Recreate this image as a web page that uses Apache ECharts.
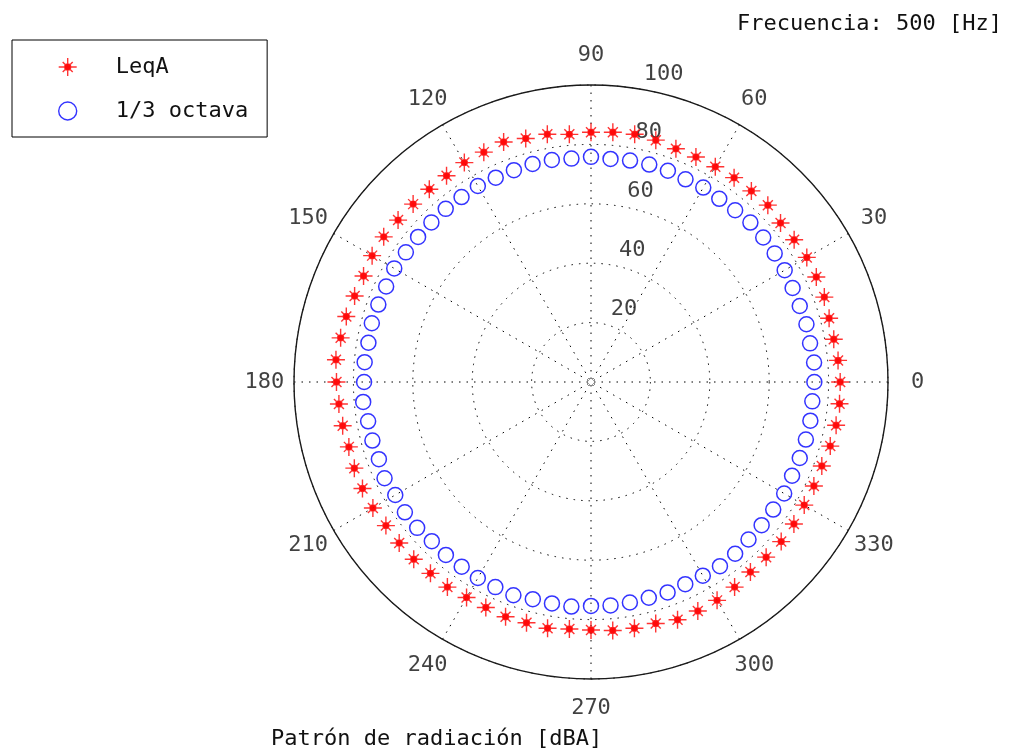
<!DOCTYPE html>
<html>
<head>
<meta charset="utf-8">
<script src="https://cdn.jsdelivr.net/npm/echarts@6/dist/echarts.min.js"></script>
<style>
html,body{margin:0;padding:0;background:#fff;}
#chart{width:1009px;height:756px;}
</style>
</head>
<body>
<div id="chart"></div>
<script>
// angles in degrees
const angles = [0,5,10,15,20,25,30,35,40,45,50,55,60,65,70,75,80,85,90,95,100,105,110,115,
  120,125,130,135,140,145,150,155,160,165,170,175,180,185,190,195,200,205,210,215,220,225,230,235,
  240,245,250,255,260,265,270,275,280,285,290,295,300,305,310,315,320,325,330,335,340,345,350,355];
// LeqA [dBA]
const leqA = [83.9,83.5,83.0,83.0,83.6,83.7,83.9,83.5,83.3,84.2,84.0,84.0,
  83.7,83.6,83.6,84.3,84.7,84.4,84.1,83.7,84.7,84.9,86.0,85.4,
  85.3,84.8,84.7,84.7,84.8,85.2,85.1,84.5,84.7,85.3,85.6,86.2,
  85.7,85.2,84.9,84.4,84.8,84.9,84.8,84.3,84.3,84.4,84.1,84.3,
  83.8,83.8,84.1,83.9,84.2,83.5,83.5,84.0,84.2,84.2,85.2,85.1,
  84.9,84.3,83.5,83.4,83.6,83.4,82.9,82.8,82.7,83.4,83.8,84.0];
// 1/3 octava [dBA]
const tercio = [75.2,75.4,74.9,75.1,74.8,74.9,75.3,75.5,75.7,75.9,75.5,75.3,
  75.6,75.3,75.7,75.8,75.7,75.4,75.8,75.5,75.9,76.0,75.9,75.9,
  76.2,76.0,76.1,76.0,76.0,76.1,76.5,76.1,76.2,76.4,76.1,76.5,
  76.4,77.0,76.2,76.2,76.0,76.7,76.1,76.5,76.4,75.8,76.0,75.9,
  76.2,76.2,76.4,75.7,75.7,75.9,75.4,75.5,75.4,75.2,75.4,75.1,
  75.3,75.7,75.5,75.0,75.0,74.9,75.1,74.7,74.8,74.9,75.0,74.8];
const angleTicks = [0,30,60,90,120,150,180,210,240,270,300,330];
const radiusTicks = [20,40,60,80,100];
const seriesNames = ['LeqA','1/3 octava'];
const titleText = 'Frecuencia: 500 [Hz]';
const xlabelText = 'Patrón de radiación [dBA]';

const FONT = '"DejaVu Sans Mono", monospace';
const starPath = 'path://M0,-9L0,9M-9,0L9,0M-5,-5L5,5M-5,5L5,-5M-3,0A3,3 0 1,0 3,0A3,3 0 1,0 -3,0Z';

const chart = echarts.init(document.getElementById('chart'), null, {renderer:'canvas'});
const option = {
  backgroundColor: '#fff',
  animation: false,
  title: [
    {text: titleText, right: 7, top: 13, padding: 0,
     textStyle: {fontFamily: FONT, fontSize: 22, fontWeight: 'normal', color: '#111'}},
    {text: xlabelText, left: 271, top: 728, padding: 0,
     textStyle: {fontFamily: FONT, fontSize: 22, fontWeight: 'normal', color: '#111'}}
  ],
  legend: {
    data: seriesNames,
    orient: 'vertical',
    left: 12, top: 40,
    padding: [16, 19, 15, 46],
    itemWidth: 86, itemHeight: 18, itemGap: 22,
    borderColor: '#000', borderWidth: 1, backgroundColor: '#fff',
    selectedMode: false,
    itemStyle: {borderWidth: 1.4},
    textStyle: {fontFamily: FONT, fontSize: 22, color: '#111'}
  },
  polar: {center: [591, 382], radius: 297},
  angleAxis: {
    type: 'value', min: 0, max: 360, interval: 30, startAngle: 0, clockwise: false,
    axisLine: {show: true, lineStyle: {color: '#1a1a1a', width: 1.4}},
    axisTick: {show: false},
    axisLabel: {show: false},
    splitLine: {show: true, lineStyle: {color: '#000', width: 1, type: [1.5, 6]}}
  },
  radiusAxis: {
    type: 'value', min: 0, max: 100, interval: 20,
    axisLine: {show: false}, axisTick: {show: false}, axisLabel: {show: false},
    splitLine: {show: true, lineStyle: {color: '#000', width: 1, type: [1.5, 6]}}
  },
  series: [
    {
      name: seriesNames[0], type: 'scatter', coordinateSystem: 'polar',
      symbol: starPath, symbolSize: 18,
      itemStyle: {color: '#ff0000', borderColor: '#ff0000', borderWidth: 1.4},
      data: angles.map((a, i) => [leqA[i], a]), z: 3
    },
    {
      name: seriesNames[1], type: 'scatter', coordinateSystem: 'polar',
      symbol: 'circle', symbolSize: 15,
      itemStyle: {color: 'rgba(0,0,0,0)', borderColor: '#0000ff', borderWidth: 1.5},
      data: angles.map((a, i) => [tercio[i], a]), z: 3
    },
    {
      name: 'angleLabels', type: 'scatter', coordinateSystem: 'polar', silent: true, clip: false,
      symbolSize: 1, itemStyle: {color: 'rgba(0,0,0,0)'},
      label: {show: true, position: 'inside', align: 'center', verticalAlign: 'middle',
        fontFamily: FONT, fontSize: 22, color: '#111',
        formatter: p => String(p.value[1])},
      data: angleTicks.map(a => [110, a])
    },
    {
      name: 'radiusLabels', type: 'scatter', coordinateSystem: 'polar', silent: true, clip: false,
      symbolSize: 1, itemStyle: {color: 'rgba(0,0,0,0)'},
      label: {show: true, position: 'inside', align: 'left', verticalAlign: 'bottom', offset: [11, 0],
        fontFamily: FONT, fontSize: 22, color: '#111',
        formatter: p => String(radiusTicks[p.dataIndex])},
      data: radiusTicks.map(r => [r + 1, 82])
    }
  ]
};
chart.setOption(option);
</script>
</body>
</html>
